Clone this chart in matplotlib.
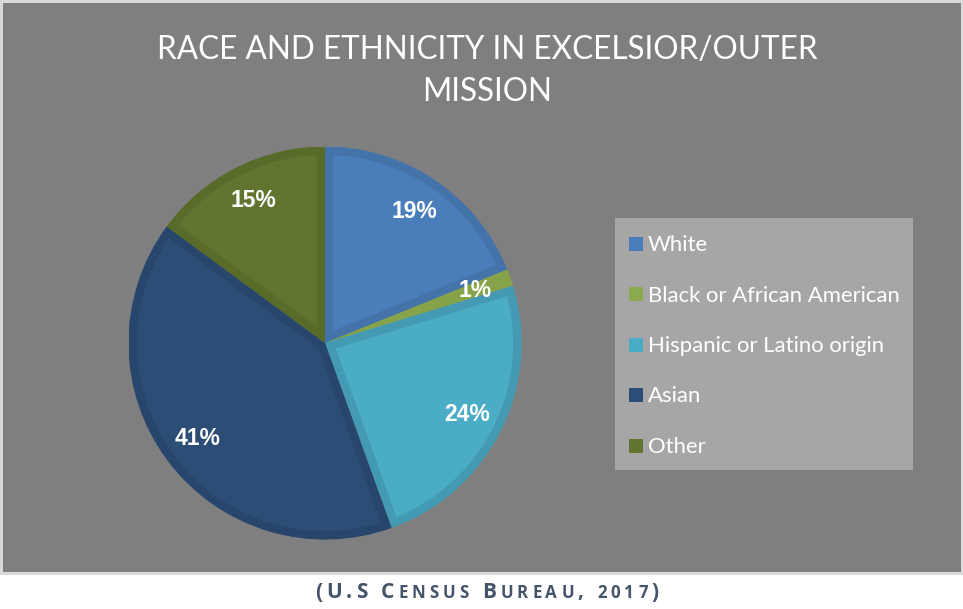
import matplotlib
matplotlib.use("Agg")
import matplotlib.pyplot as plt
from matplotlib.patches import Rectangle
from matplotlib.offsetbox import TextArea, HPacker, AnchoredOffsetbox

# ---- data ----
categories = ["White", "Black or African American", "Hispanic or Latino origin", "Asian", "Other"]
values = [18.9, 1.4, 24.2, 40.6, 14.9]
fill_colors = ["#4a7ebb", "#8cab4e", "#4bacc6", "#2c4d75", "#617530"]
edge_colors = ["#4473aa", "#86a349", "#449ab3", "#28466b", "#586b29"]
title_text = "RACE AND ETHNICITY IN EXCELSIOR/OUTER\nMISSION"
caption_parts = [("(U.S C", "big"), ("ENSUS", "small"), (" B", "big"), ("UREAU", "small"),
                 (", ", "big"), ("2017", "small"), (")", "big")]

W, H = 963, 609
fig = plt.figure(figsize=(W / 100, H / 100), dpi=100)
fig.patch.set_facecolor("white")

# background axes in pixel coordinates (y down)
ax_bg = fig.add_axes([0, 0, 1, 1])
ax_bg.set_xlim(0, W)
ax_bg.set_ylim(H, 0)
ax_bg.axis("off")
ax_bg.add_patch(Rectangle((0, 0), W, 575, facecolor="#d9d9d9", edgecolor="none"))
ax_bg.add_patch(Rectangle((3, 3), W - 5, 569, facecolor="#7f7f7f", edgecolor="none"))

# title
ax_bg.text(487, 71, title_text, ha="center", va="center", color="white",
           fontsize=22.7, family="Lato", fontweight="normal", linespacing=1.5)

# legend box
ax_bg.add_patch(Rectangle((615, 218), 298, 252, facecolor="#a6a6a6", edgecolor="none"))
row_y0, row_step = 244, 50.5
for i, (lab, col) in enumerate(zip(categories, fill_colors)):
    y = row_y0 + i * row_step
    ax_bg.add_patch(Rectangle((629, y - 7.5), 14, 14, facecolor=col, edgecolor="none"))
    ax_bg.text(648, y + 1, lab, ha="left", va="center", color="white",
               fontsize=15.9, family="Lato")

# pie axes
cx, cy, r = 325, 343, 196.5
ax_pie = fig.add_axes([(cx - r) / W, (H - cy - r) / H, 2 * r / W, 2 * r / H])
ax_pie.set_zorder(2)
wedges, texts, autotexts = ax_pie.pie(
    values, colors=fill_colors, startangle=90, counterclock=False,
    autopct="%.0f%%", pctdistance=0.81,
    wedgeprops=dict(linewidth=12, edgecolor="none"),
    textprops=dict(color="white", fontsize=16.5, fontweight="bold", family="Liberation Sans"))
for w, ec in zip(wedges, edge_colors):
    w.set_edgecolor(ec)
    w.set_clip_on(True)
    w.set_clip_path(w)
ax_pie.set_xlim(-1, 1)
ax_pie.set_ylim(-1, 1)
ax_pie.axis("off")

# caption in small caps with letter spacing
cap_color = "#44546a"
areas = []
for txt, kind in caption_parts:
    size = 15 if kind == "big" else 12.2
    for ch in txt:
        areas.append(TextArea(ch, textprops=dict(color=cap_color, fontsize=size,
                                                 fontweight="bold", family="Open Sans")))
pack = HPacker(children=areas, align="baseline", pad=0, sep=2.9)
anch = AnchoredOffsetbox(loc="center", child=pack, pad=0, borderpad=0, frameon=False,
                         bbox_to_anchor=(487 / W, 1 - 592 / H), bbox_transform=fig.transFigure)
ax_bg.add_artist(anch)

fig.savefig("out.png", dpi=100, facecolor="white")
